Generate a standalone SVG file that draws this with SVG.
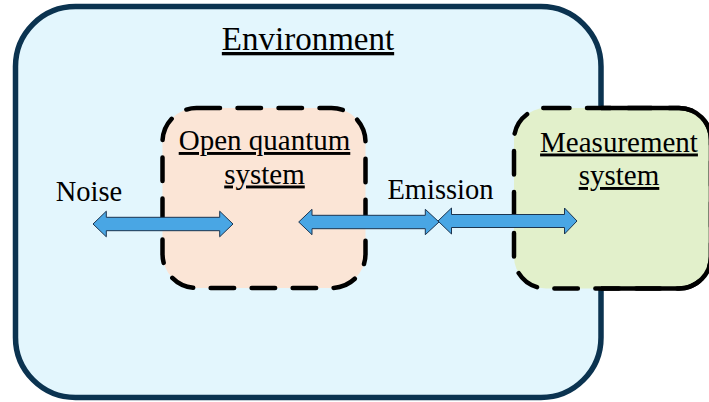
<svg xmlns="http://www.w3.org/2000/svg" width="709" height="402" viewBox="0 0 709 402">
<style>
  text { font-family: 'Liberation Serif', 'Times New Roman', serif; fill: #000; text-anchor: middle; }
  .ul { text-decoration: underline; }
  .dash { fill: none; stroke: #000; stroke-width: 4.5; stroke-dasharray: 23.5 17.5; stroke-linecap: round; }
  .arrow { fill: #49a6e4; stroke: #1c3550; stroke-width: 1; stroke-linejoin: miter; }
</style>
<defs>
  <clipPath id="outsideEnv">
    <rect x="601" y="0" width="120" height="402"/>
  </clipPath>
</defs>
<rect x="0" y="0" width="709" height="402" fill="#ffffff"/>
<g id="environment">
  <rect x="15.5" y="6.5" width="585.5" height="391" rx="60" ry="60" fill="#e3f6fd" stroke="#0b3350" stroke-width="5.5"/>
  <text class="ul" x="308" y="50" font-size="33">Environment</text>
</g>
<g id="open-quantum-system">
  <rect x="162.5" y="108" width="203" height="180" rx="34" ry="34" fill="#fbe5d6"/>
  <rect class="dash" x="162.5" y="108" width="203" height="180" rx="34" ry="34"/>
  <text class="ul" x="264.5" y="150" font-size="29">Open quantum</text>
  <text class="ul" x="264.5" y="183.5" font-size="29">system</text>
</g>
<g id="measurement-system">
  <rect x="514" y="108" width="197" height="180.5" rx="32" ry="32" fill="#e2f0cb"/>
  <rect x="514" y="108" width="197" height="180.5" rx="32" ry="32" fill="none" stroke="#000" stroke-width="4.5" clip-path="url(#outsideEnv)"/>
  <rect class="dash" x="514" y="108" width="197" height="180.5" rx="32" ry="32"/>
  <text class="ul" x="619" y="151.5" font-size="29">Measurement</text>
  <text class="ul" x="619" y="185" font-size="29">system</text>
</g>
<g id="labels">
  <text x="89" y="200.5" font-size="28.5">Noise</text>
  <text x="440.5" y="198.5" font-size="28.5">Emission</text>
</g>
<g id="connectors">
  <path class="arrow" d="M93,224 L106.3,211.2 L106.3,217.3 L219.7,217.3 L219.7,211.2 L233,224 L219.7,236.8 L219.7,230.7 L106.3,230.7 L106.3,236.8 Z"/>
  <path class="arrow" d="M298.7,222 L312,209.3 L312,215.3 L425.3,215.3 L425.3,209.3 L439,222 L425.3,234.7 L425.3,228.7 L312,228.7 L312,234.7 Z"/>
  <path class="arrow" d="M438,221 L451.5,208 L451.5,214.5 L564.5,214.5 L564.5,208 L577,221 L564.5,234 L564.5,227.5 L451.5,227.5 L451.5,234 Z"/>
</g>
</svg>
